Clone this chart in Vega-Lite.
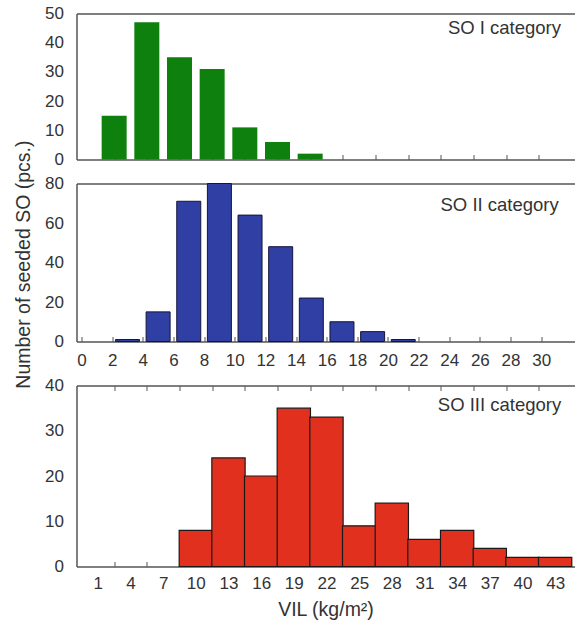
{
  "$schema": "https://vega.github.io/schema/vega-lite/v6.json",
  "padding": {"left": 13.5, "top": 4.5, "right": 0, "bottom": 0},
  "spacing": 7,
  "title": {"text": "Number of seeded SO (pcs.)", "orient": "left", "anchor": "middle", "offset": 10, "dx": 47, "fontSize": 19.5, "fontWeight": "normal", "font": "Liberation Sans", "color": "#333333"},
  "config": {
    "view": {"stroke": null},
    "font": "Liberation Sans",
    "axis": {
      "labelFont": "Liberation Sans",
      "labelFontSize": 17,
      "labelColor": "#333333",
      "labelOverlap": false,
      "domainColor": "#555555",
      "domainWidth": 1.5,
      "grid": false,
      "tickColor": "#555555",
      "tickWidth": 1,
      "titleFont": "Liberation Sans",
      "titleFontWeight": "normal",
      "titleColor": "#333333",
      "titleFontSize": 19.5
    }
  },
  "datasets": {
    "so1": [
      {"cls": 1, "count": 15},
      {"cls": 2, "count": 47},
      {"cls": 3, "count": 35},
      {"cls": 4, "count": 31},
      {"cls": 5, "count": 11},
      {"cls": 6, "count": 6},
      {"cls": 7, "count": 2}
    ],
    "so2": [
      {"vil": 3, "count": 1},
      {"vil": 5, "count": 15},
      {"vil": 7, "count": 71},
      {"vil": 9, "count": 80},
      {"vil": 11, "count": 64},
      {"vil": 13, "count": 48},
      {"vil": 15, "count": 22},
      {"vil": 17, "count": 10},
      {"vil": 19, "count": 5},
      {"vil": 21, "count": 1}
    ],
    "so3": [
      {"vil": 10, "count": 8},
      {"vil": 13, "count": 24},
      {"vil": 16, "count": 20},
      {"vil": 19, "count": 35},
      {"vil": 22, "count": 33},
      {"vil": 25, "count": 9},
      {"vil": 28, "count": 14},
      {"vil": 31, "count": 6},
      {"vil": 34, "count": 8},
      {"vil": 37, "count": 4},
      {"vil": 40, "count": 2},
      {"vil": 43, "count": 2}
    ],
    "lab1": [{"label": "SO I category"}],
    "lab2": [{"label": "SO II category"}],
    "lab3": [{"label": "SO III category"}]
  },
  "vconcat": [
    {
      "width": 498,
      "height": 146,
      "layer": [
        {
          "data": {"name": "so1"},
          "mark": {"type": "bar", "width": 25, "color": "#0e800e"},
          "encoding": {
            "x": {"field": "cls", "type": "quantitative",
                  "scale": {"domain": [0, 14.94], "nice": false, "zero": false},
                  "axis": {"orient": "bottom", "values": [1,2,3,4,5,6,7,8,9,10,11,12,13,14], "labels": false, "tickSize": -5, "title": null}},
            "y": {"field": "count", "type": "quantitative",
                  "scale": {"domain": [0, 50], "nice": false},
                  "axis": {"values": [0,10,20,30,40,50], "labelOverlap": false, "ticks": false, "labelPadding": 13, "title": null}}
          }
        },
        {
          "data": {"name": "lab1"},
          "mark": {"type": "text", "align": "right", "baseline": "middle", "fontSize": 18.5, "color": "#333333", "font": "Liberation Sans"},
          "encoding": {
            "x": {"datum": 14.68, "type": "quantitative", "axis": {"orient": "top", "labels": false, "ticks": false, "title": null}},
            "y": {"datum": 45, "type": "quantitative", "axis": {"values": [0,10,20,30,40,50], "labelOverlap": false, "ticks": false, "labelPadding": 13, "title": null}},
            "text": {"field": "label"}
          }
        }
      ],
      "resolve": {"axis": {"x": "independent"}}
    },
    {
      "width": 498,
      "height": 158,
      "layer": [
        {
          "data": {"name": "so2"},
          "mark": {"type": "bar", "width": 24, "color": "#2f3fa3", "stroke": "#15153a", "strokeWidth": 1},
          "encoding": {
            "x": {"field": "vil", "type": "quantitative",
                  "scale": {"domain": [0, 31.85], "nice": false, "zero": false},
                  "axis": {"orient": "bottom", "values": [0,2,4,6,8,10,12,14,16,18,20,22,24,26,28,30], "labelOverlap": false, "tickSize": -5, "labelPadding": 16.3, "title": null}},
            "y": {"field": "count", "type": "quantitative",
                  "scale": {"domain": [0, 80], "nice": false},
                  "axis": {"values": [0,20,40,60,80], "labelOverlap": false, "ticks": false, "labelPadding": 13, "title": null}}
          }
        },
        {
          "data": {"name": "lab2"},
          "mark": {"type": "text", "align": "right", "baseline": "middle", "fontSize": 18.5, "color": "#333333", "font": "Liberation Sans"},
          "encoding": {
            "x": {"datum": 31.15, "type": "quantitative", "axis": {"orient": "top", "labels": false, "ticks": false, "title": null}},
            "y": {"datum": 69.2, "type": "quantitative", "axis": {"values": [0,20,40,60,80], "labelOverlap": false, "ticks": false, "labelPadding": 13, "title": null}},
            "text": {"field": "label"}
          }
        }
      ],
      "resolve": {"axis": {"x": "independent"}}
    },
    {
      "width": 498,
      "height": 181,
      "layer": [
        {
          "data": {"name": "so3"},
          "mark": {"type": "bar", "width": 33.3, "color": "#e2301f", "stroke": "#1a1a1a", "strokeWidth": 1.2},
          "encoding": {
            "x": {"field": "vil", "type": "quantitative",
                  "scale": {"domain": [-0.5, 44.32], "nice": false, "zero": false},
                  "axis": {"orient": "bottom",
                           "values": [1,2.5,4,5.5,7,8.5,10,11.5,13,14.5,16,17.5,19,20.5,22,23.5,25,26.5,28,29.5,31,32.5,34,35.5,37,38.5,40,41.5,43],
                           "labelExpr": "datum.value % 3 === 1 ? datum.label : ''",
                           "labelOverlap": false,
                           "tickSize": -5,
                           "tickOpacity": {"condition": {"test": "datum.value % 1 !== 0", "value": 1}, "value": 0},
                           "labelPadding": 14,
                           "title": "VIL (kg/m²)", "titlePadding": 8.7}},
            "y": {"field": "count", "type": "quantitative",
                  "scale": {"domain": [0, 40], "nice": false},
                  "axis": {"values": [0,10,20,30,40], "labelOverlap": false, "ticks": false, "labelPadding": 13, "title": null}}
          }
        },
        {
          "data": {"name": "lab3"},
          "mark": {"type": "text", "align": "right", "baseline": "middle", "fontSize": 18.5, "color": "#333333", "font": "Liberation Sans"},
          "encoding": {
            "x": {"datum": 43.56, "type": "quantitative",
                  "axis": {"orient": "top", "labels": false, "tickSize": -5,
                           "values": [2.5,5.5,8.5,11.5,14.5,17.5,20.5,23.5,26.5,29.5,32.5,35.5,38.5,41.5], "title": null}},
            "y": {"datum": 35.6, "type": "quantitative", "axis": {"values": [0,10,20,30,40], "labelOverlap": false, "ticks": false, "labelPadding": 13, "title": null}},
            "text": {"field": "label"}
          }
        }
      ],
      "resolve": {"axis": {"x": "independent"}}
    }
  ]
}
